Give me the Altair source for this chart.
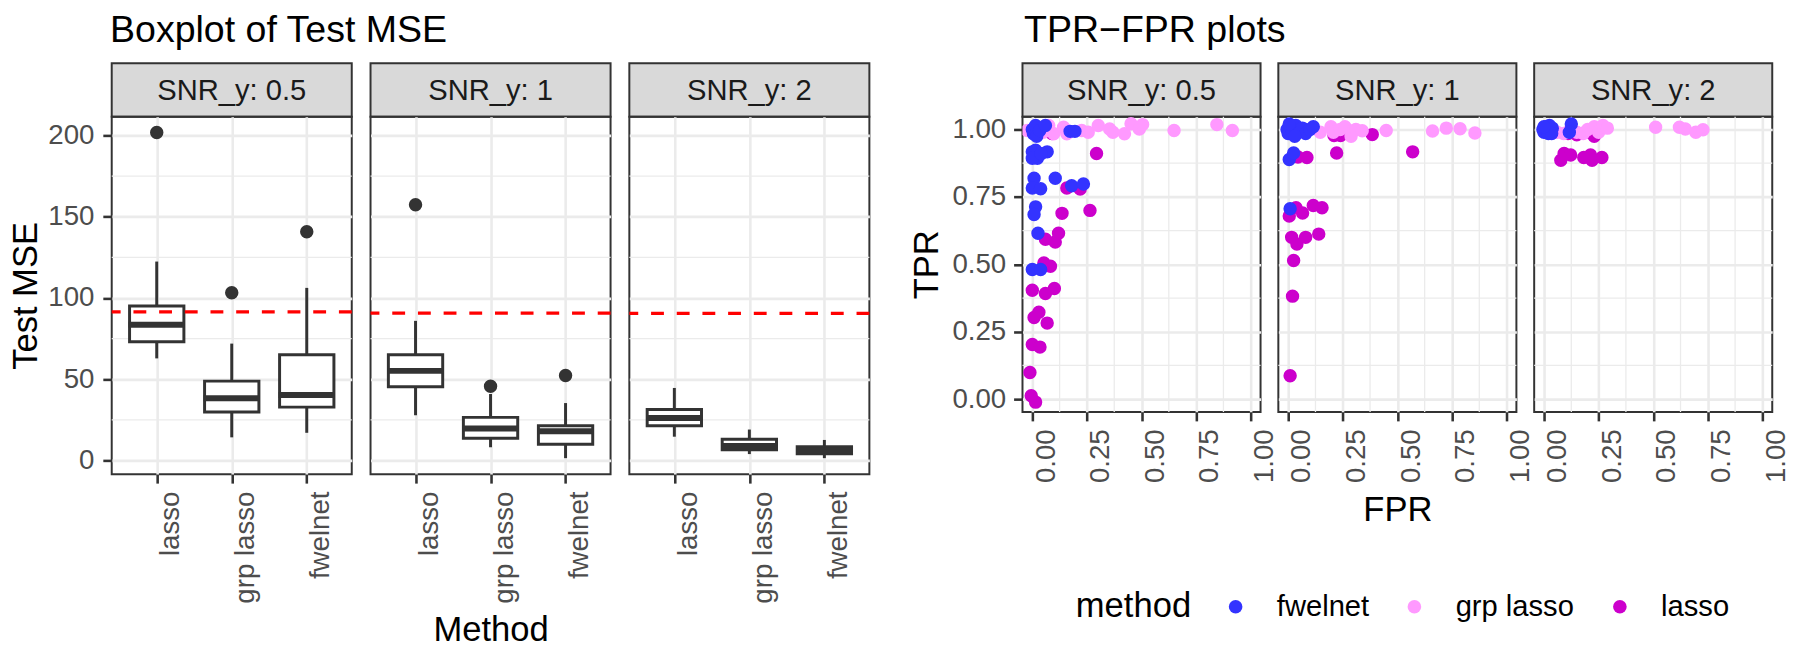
import altair as alt
import pandas as pd

FONT = "Liberation Sans"

snr_labels = ["SNR_y: 0.5", "SNR_y: 1", "SNR_y: 2"]
box_methods = ["lasso", "grp lasso", "fwelnet"]

# Boxplot statistics per panel (order: lasso, grp lasso, fwelnet)
whisker_low = [[62.8, 14.2, 17.0], [27.8, 8.1, 1.4], [14.6, 3.9, 1.4]]
q1 = [[73.0, 29.8, 32.8], [45.4, 13.6, 9.9], [21.3, 6.5, 4.1]]
median = [[83.5, 38.3, 40.3], [55.1, 19.7, 18.0], [26.1, 8.9, 6.3]]
q3 = [[95.0, 48.8, 65.0], [65.0, 26.5, 21.3], [31.4, 13.0, 8.5]]
whisker_high = [[122.4, 71.9, 106.2], [85.9, 40.9, 35.3], [44.6, 19.0, 12.6]]
outliers = [[[201.8], [103.2], [140.8]], [[157.4], [45.6], [52.3]], [[], [], []]]
ref_line = [91.4, 90.6, 90.5]

# TPR-FPR scatter values per panel
fpr_lasso = [
    [0.09, 0.294, 0.158, 0.219, 0.136, 0.264, 0.060, 0.105, 0.120, 0.053, 0.083, 0.000, 0.060, 0.101,
     0.030, 0.008, 0.068, 0.000, 0.035, -0.011, -0.005, 0.015],
    [0.21, 0.24, 0.385, 0.222, 0.570, 0.086, 0.045, 0.036, 0.066, 0.115, 0.155, 0.005, 0.14, 0.016,
     0.04, 0.08, 0.025, 0.02, 0.009],
    [0.11, 0.15, 0.19, 0.23, 0.20, 0.077, 0.092, 0.122, 0.182, 0.213, 0.22, 0.265],
]
tpr_lasso = [
    [0.985, 0.911, 0.783, 0.779, 0.689, 0.700, 0.593, 0.583, 0.615, 0.505, 0.493, 0.404, 0.392, 0.410,
     0.322, 0.303, 0.282, 0.203, 0.193, 0.099, 0.013, -0.011],
    [0.978, 0.978, 0.981, 0.913, 0.917, 0.896, 0.898, 0.710, 0.690, 0.718, 0.710, 0.679, 0.612, 0.600,
     0.575, 0.600, 0.514, 0.382, 0.087],
    [0.985, 0.98, 0.99, 0.975, 0.995, 0.886, 0.911, 0.905, 0.896, 0.905, 0.886, 0.896],
]
fpr_grp = [
    [-0.023, 0.02, 0.05, 0.075, 0.098, 0.143, 0.158, 0.226, 0.256, 0.302, 0.354, 0.369, 0.422, 0.452,
     0.490, 0.505, 0.649, 0.845, 0.916],
    [0.03, 0.08, 0.147, 0.196, 0.207, 0.238, 0.26, 0.288, 0.298, 0.31, 0.339, 0.449, 0.661, 0.724,
     0.787, 0.855],
    [0.06, 0.09, 0.12, 0.15, 0.18, 0.20, 0.23, 0.25, 0.27, 0.29, 0.511, 0.62, 0.647, 0.695, 0.728],
]
tpr_grp = [
    [0.996, 1.0, 0.99, 1.015, 0.984, 1.008, 0.984, 0.996, 0.990, 1.015, 1.002, 0.990, 0.984, 1.021,
     1.002, 1.018, 0.996, 1.018, 0.996],
    [1.0, 1.0, 0.99, 1.01, 0.99, 1.0, 1.01, 0.975, 0.995, 1.0, 0.995, 0.996, 0.994, 1.005, 1.003, 0.987],
    [0.99, 0.985, 1.0, 0.99, 0.985, 1.0, 1.01, 0.99, 1.015, 1.005, 1.008, 1.008, 1.002, 0.99, 0.999],
]
fpr_fwel = [
    [0.0, 0.005, 0.015, 0.02, 0.034, 0.060, 0.173, 0.195, 0.000, 0.015, 0.068, 0.023, 0.000, 0.04,
     0.008, 0.000, 0.038, 0.105, 0.180, 0.234, 0.015, 0.008, 0.026, 0.000, 0.038],
    [-0.005, 0.0, 0.01, 0.02, 0.035, 0.05, 0.065, 0.08, 0.1, 0.115, 0.005, 0.03, 0.005, 0.025, 0.009],
    [-0.005, 0.0, 0.01, 0.02, 0.03, 0.038, 0.015, 0.025, 0.035, 0.0, 0.125, 0.116],
]
tpr_fwel = [
    [1.0, 0.984, 1.015, 0.975, 0.996, 1.015, 0.993, 0.993, 0.917, 0.923, 0.917, 0.893, 0.893, 0.91,
     0.819, 0.783, 0.780, 0.819, 0.791, 0.798, 0.713, 0.685, 0.615, 0.481, 0.481],
    [1.0, 0.985, 1.01, 0.99, 1.015, 0.995, 1.005, 0.985, 1.0, 1.01, 1.02, 0.975, 0.889, 0.913, 0.706],
    [1.0, 0.99, 1.01, 0.985, 1.0, 1.005, 0.995, 1.015, 0.985, 1.01, 1.02, 0.99],
]

legend_methods = ["fwelnet", "grp lasso", "lasso"]
legend_colors = ["#3333FF", "#FF99FF", "#CC00CC"]

GRID = "#EBEBEB"
DARK = "#333333"


def strip(label, w):
    return alt.Chart(pd.DataFrame({"label": [label]})).mark_text(
        font=FONT, fontSize=29.5, color="#1A1A1A", baseline="middle", align="center"
    ).encode(
        text="label:N", x=alt.value(w / 2), y=alt.value(28)
    ).properties(
        width=w, height=54,
        view=alt.ViewBackground(fill="#D9D9D9", stroke=DARK, strokeWidth=2),
    )


def box_panel(i):
    W, H = 243, 362
    df = pd.DataFrame({
        "method": box_methods, "lo": whisker_low[i], "q1": q1[i], "med": median[i],
        "q3": q3[i], "hi": whisker_high[i],
    })
    orows = [(m, v) for m, vals in zip(box_methods, outliers[i]) for v in vals]
    od = pd.DataFrame(orows if orows else [("lasso", -100.0)], columns=["method", "value"])
    xs = alt.Scale(type="point", domain=box_methods, padding=0.6)
    ys = alt.Scale(domain=[-8.5, 211.6], nice=False, zero=False)
    xaxis = alt.Axis(title="Method" if i == 1 else None, labelAngle=270, labelAlign="right",
                     labelBaseline="top", titlePadding=10)
    if i == 0:
        yaxis = alt.Axis(title="Test MSE", values=[0, 50, 100, 150, 200], format="d",
                         titlePadding=4, labelPadding=9)
    else:
        yaxis = alt.Axis(title=None, values=[0, 50, 100, 150, 200], labels=False, ticks=False)
    X = alt.X("method:N", scale=xs, axis=xaxis, sort=box_methods)
    minor = alt.Chart(pd.DataFrame({"v": [25, 75, 125, 175]})).mark_rule(
        color=GRID, strokeWidth=1.3).encode(y=alt.Y("v:Q", scale=ys, axis=yaxis))
    whisk = alt.Chart(df).mark_rule(color=DARK, strokeWidth=3).encode(
        x=X, y=alt.Y("lo:Q", scale=ys), y2="hi:Q")
    box = alt.Chart(df).mark_bar(size=55, fill="white", stroke=DARK, strokeWidth=3).encode(
        x=X, y=alt.Y("q1:Q", scale=ys), y2="q3:Q")
    med = alt.Chart(df).mark_tick(color=DARK, size=57, thickness=6, opacity=1).encode(
        x=X, y=alt.Y("med:Q", scale=ys))
    outl = alt.Chart(od).mark_circle(size=185, color=DARK, opacity=1, clip=True).encode(
        x=X, y=alt.Y("value:Q", scale=ys))
    ref = alt.Chart(pd.DataFrame({"v": [ref_line[i]]})).mark_rule(
        color="#FF0000", strokeWidth=3.3, strokeDash=[13, 13]).encode(y=alt.Y("v:Q", scale=ys))
    return alt.layer(minor, whisk, box, med, outl, ref).properties(width=W, height=H)


def tpr_panel(i):
    W, H = 241, 299
    rows = []
    for m, fl, tl in [("lasso", fpr_lasso, tpr_lasso), ("grp lasso", fpr_grp, tpr_grp),
                      ("fwelnet", fpr_fwel, tpr_fwel)]:
        for f, t in zip(fl[i], tl[i]):
            rows.append({"method": m, "FPR": f, "TPR": t})
    df = pd.DataFrame(rows)
    xs = alt.Scale(domain=[-0.045, 1.045], nice=False, zero=False)
    ys = alt.Scale(domain=[-0.0476, 1.0476], nice=False, zero=False)
    vals = [0, 0.25, 0.5, 0.75, 1.0]
    xaxis = alt.Axis(title="FPR" if i == 1 else None, values=vals, format=".2f", labelAngle=270,
                     labelAlign="right", labelBaseline="top", titlePadding=10)
    if i == 0:
        yaxis = alt.Axis(title="TPR", values=vals, format=".2f", titlePadding=8, labelPadding=8)
    else:
        yaxis = alt.Axis(title=None, values=vals, labels=False, ticks=False)
    minor_x = alt.Chart(pd.DataFrame({"v": [0.125, 0.375, 0.625, 0.875]})).mark_rule(
        color=GRID, strokeWidth=1.3).encode(x=alt.X("v:Q", scale=xs, axis=xaxis))
    minor_y = alt.Chart(pd.DataFrame({"v": [0.125, 0.375, 0.625, 0.875]})).mark_rule(
        color=GRID, strokeWidth=1.3).encode(y=alt.Y("v:Q", scale=ys, axis=yaxis))
    legend = alt.Legend(
        title="method", orient="none", direction="horizontal", legendX=976, legendY=535,
        titleOrient="left", symbolType="circle", symbolSize=190, symbolStrokeWidth=0,
        labelFontSize=29.5, titleFontSize=35, labelOffset=27, columnPadding=31, titlePadding=30,
        labelFont=FONT, titleFont=FONT, titleFontWeight="normal", labelColor="black",
        titleColor="black", titleBaseline="middle", labelBaseline="middle",
    ) if i == 0 else None
    pts = alt.Chart(df).mark_circle(size=185, opacity=1, clip=True).encode(
        x=alt.X("FPR:Q", scale=xs),
        y=alt.Y("TPR:Q", scale=ys),
        color=alt.Color("method:N", scale=alt.Scale(domain=legend_methods, range=legend_colors),
                        legend=legend),
    )
    return alt.layer(minor_x, minor_y, pts).properties(width=W, height=H)


left = alt.concat(
    *[strip(snr_labels[i], 243) for i in range(3)], *[box_panel(i) for i in range(3)],
    columns=3, spacing={"row": 0, "column": 19}, bounds="flush",
).properties(title=alt.TitleParams("Boxplot of Test MSE", anchor="start", offset=13, dx=103))
right = alt.concat(
    *[strip(snr_labels[i], 241) for i in range(3)], *[tpr_panel(i) for i in range(3)],
    columns=3, spacing={"row": 0, "column": 18}, bounds="flush",
).properties(title=alt.TitleParams("TPR\u2212FPR plots", anchor="start", offset=13, dx=117))

chart = alt.hconcat(left, right, spacing=36).properties(padding=0).configure_view(
    stroke=DARK, strokeWidth=2
).configure_axis(
    domain=False, grid=True, gridColor=GRID, gridWidth=2.6,
    tickColor=DARK, tickWidth=2.6, tickSize=9,
    labelColor="#4D4D4D", labelFontSize=28, labelFont=FONT, labelPadding=8,
    titleFont=FONT, titleFontSize=35, titleFontWeight="normal", titleColor="black",
).configure_title(
    font=FONT, fontSize=38, fontWeight="normal", color="black"
)

chart.save("out.html", embed_options={"renderer": "svg", "actions": False})
